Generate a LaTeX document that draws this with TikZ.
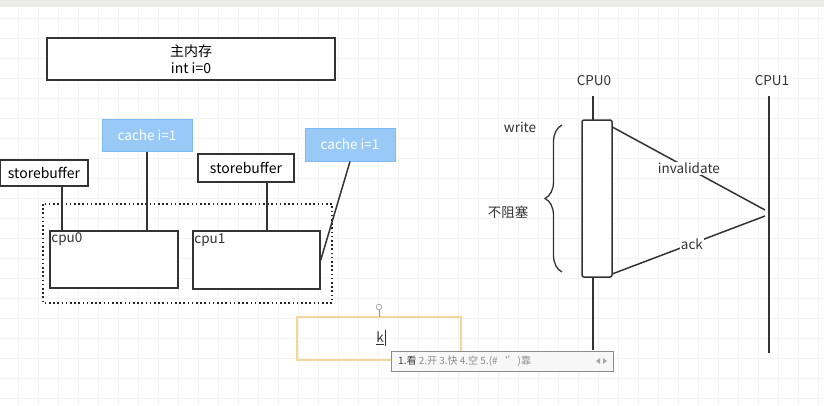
\documentclass[tikz,border=0pt]{standalone}
\usepackage{fontspec}
\setmainfont{Noto Sans CJK SC}
\usetikzlibrary{decorations.pathreplacing}
\usetikzlibrary{calc}
\definecolor{cacheBlue}{RGB}{153,202,247}
\definecolor{cacheEdge}{RGB}{125,186,242}
\definecolor{selYellow}{RGB}{242,214,158}
\definecolor{gridGray}{RGB}{242,244,242}
\definecolor{barGray}{RGB}{234,234,232}
\tikzset{box/.style={draw=black!80!white, line width=1.5pt, fill=white, inner sep=2pt, node font=\fontsize{14}{17}\selectfont}}
\tikzset{cacheBox/.style={fill=cacheBlue, draw=cacheEdge, line width=1pt, text=white, node font=\fontsize{13.5}{16}\selectfont}}
\tikzset{link/.style={draw=black!80!white, line width=1.5pt}}
\tikzset{txt/.style={node font=\fontsize{13.5}{16}\selectfont, text=black!80!white, inner sep=1pt}}
\tikzset{imeTxt/.style={node font=\fontsize{10}{12}\selectfont, text=black!45!white, inner sep=1pt}}

\begin{document}
\begin{tikzpicture}[x=1pt,y=-1pt]
\useasboundingbox (0,0) rectangle (824,405);
\fill[white] (0,0) rectangle (824,405);
% grid and toolbar
\foreach \gx in {18,38,...,818} \draw[gridGray,line width=0.6pt] (\gx,8) -- (\gx,405);
\foreach \gy in {18,38,...,398} \draw[gridGray,line width=0.6pt] (0,\gy) -- (824,\gy);
\fill[barGray] (0,0) rectangle (824,7);

% main memory
\node[box,minimum width=288pt,minimum height=42pt,align=center] (mem) at (191,59) {主内存\\int i=0};

% cpu boxes and dotted frame
\draw[black!85!white,line width=1.6pt,dash pattern=on 1.6pt off 2.6pt] (43,204) rectangle (332,303);
\node[box,minimum width=128pt,minimum height=57pt] (cpu0) at (114,259.5) {};
\node[box,minimum width=127pt,minimum height=58pt] (cpu1) at (256.5,260) {};
\node[txt,anchor=north west] (cpu0lbl) at ($(cpu0.north west)+(1,1)$) {cpu0};
\node[txt,anchor=north west] (cpu1lbl) at ($(cpu1.north west)+(1,2)$) {cpu1};

% store buffers and caches
\node[box,minimum width=88pt,minimum height=26pt] (sbL) at (44,173) {storebuffer};
\node[box,minimum width=96pt,minimum height=28pt] (sbR) at (246,168) {storebuffer};
\node[cacheBox,minimum width=90pt,minimum height=32pt] (cacheL) at (147,135) {cache i=1};
\node[cacheBox,minimum width=90pt,minimum height=33pt] (cacheR) at (350,144.5) {cache i=1};

\coordinate (sbLfoot) at ($(sbL.south west)!0.7!(sbL.south east)$);
\coordinate (sbRfoot) at ($(sbR.south west)!0.715!(sbR.south east)$);
\draw[link] (sbLfoot) -- (sbLfoot |- cpu0.north);
\draw[link] (cacheL.south) -- (cacheL.south |- cpu0.north);
\draw[link] (sbRfoot) -- (sbRfoot |- cpu1.north);
\draw[link] (cacheR.south) -- (cpu1.east);

% sequence part
\node[txt] (lblA) at (594,81) {CPU0};
\node[txt] (lblB) at (772,81) {CPU1};
\coordinate (lifeAtop) at (593,96);
\coordinate (lifeAbot) at (593,350);
\coordinate (lifeBtop) at (769,96);
\coordinate (lifeBbot) at (769,353);
\draw[link] (lifeAtop) -- (lifeAbot);
\draw[link] (lifeBtop) -- (lifeBbot);
\node[box,rounded corners=2pt,minimum width=30pt,minimum height=157pt] (act) at (597,198.5) {};

\coordinate (invEnd) at (765,210);
\coordinate (ackEnd) at (765,216);
\draw[link] ($(act.north east)+(0,8)$) -- (invEnd) node[txt,fill=white,pos=0.5] (inv) {invalidate};
\draw[link] ($(act.south east)+(0,-4)$) -- (ackEnd) node[txt,fill=white,pos=0.52] (ack) {ack};

\draw[link,line width=1.3pt,decorate,decoration={brace,amplitude=17pt,aspect=0.5}] (562,272) -- (562,125);
\node[txt] (write) at (520,127) {write};
\node[txt] (noblock) at (508,212) {不阻塞};

% editing box and input bar
\draw[selYellow,line width=1.5pt] (297,317) rectangle (461,360);
\draw[black!40!white,line width=0.6pt] (379,310) -- (379,317);
\draw[black!40!white,fill=white,line width=0.6pt] (379,307) circle (2.8pt);
\node[txt,inner sep=0pt] (typing) at (380,338) {\underline{k}};
\draw[black!80!white,line width=0.8pt] (385,330) -- (385,346);
\draw[black!45!white,fill=white!97!black,line width=1pt] (391,351) rectangle (613,371);
\node[imeTxt,anchor=west] (ime) at (397,361) {\textcolor{black!75!white}{1.看} 2.开 3.快 4.空 5.(\#`')靠};
\fill[black!35!white] (600,358) -- (596,361) -- (600,364) -- cycle;
\fill[black!35!white] (603,358) -- (607,361) -- (603,364) -- cycle;
\end{tikzpicture}
\end{document}
